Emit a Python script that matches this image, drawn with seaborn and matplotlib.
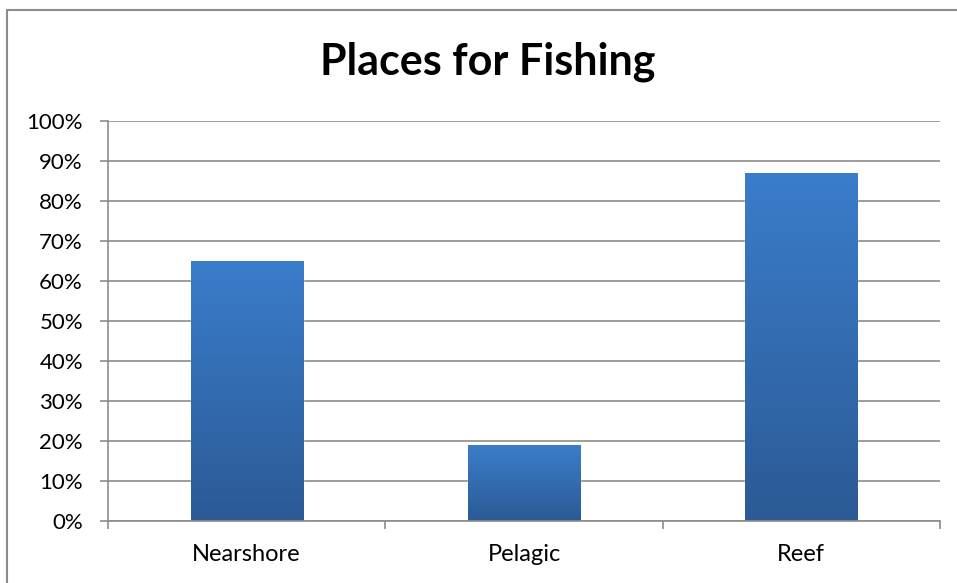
import numpy as np
import pandas as pd
import matplotlib.pyplot as plt
import matplotlib.patches as mpatches
from matplotlib.colors import LinearSegmentedColormap
from matplotlib.ticker import PercentFormatter, FixedLocator
import seaborn as sns

# data
places = ["Nearshore", "Pelagic", "Reef"]
shares = [0.65, 0.19, 0.87]

df = pd.DataFrame({"place": places, "share": shares})

sns.set_style("white")
plt.rcParams["font.family"] = ["Lato", "DejaVu Sans"]

fig = plt.figure(figsize=(9.57, 5.83), dpi=100)
ax = fig.add_axes([108 / 957, 1 - 521 / 583, (940 - 108) / 957, 400 / 583])

sns.barplot(data=df, x="place", y="share", ax=ax, width=0.404,
            color="#3a7cc9", saturation=1)

# vertical gradient on each bar
grad = LinearSegmentedColormap.from_list("bar", ["#2c5a95", "#3a7dcb"])
for bar in ax.patches:
    x0, y0 = bar.get_x(), bar.get_y()
    w, h = bar.get_width(), bar.get_height()
    img = ax.imshow(np.linspace(0, 1, 256).reshape(-1, 1), cmap=grad,
                    extent=[x0, x0 + w, y0, y0 + h], origin="lower",
                    aspect="auto", zorder=bar.get_zorder() + 0.1)
    img.set_clip_path(bar)

ax.set_xlim(-0.5, 2.5)
ax.set_ylim(0, 1)
ax.yaxis.set_major_locator(FixedLocator(np.arange(0, 1.01, 0.1)))
ax.yaxis.set_major_formatter(PercentFormatter(1.0, decimals=0))
ax.grid(axis="y", color="#8c8c8c", linewidth=1.2)
ax.set_axisbelow(True)
ax.set_xlabel("")
ax.set_ylabel("")

for side in ["top", "right"]:
    ax.spines[side].set_visible(False)
for side in ["left", "bottom"]:
    ax.spines[side].set_color("#8c8c8c")
    ax.spines[side].set_linewidth(1.2)

ax.tick_params(axis="y", which="major", left=True, length=6, width=1.2,
               color="#8c8c8c", labelsize=16, labelcolor="black", pad=12)
ax.set_xticks([0, 1, 2])
ax.set_xticklabels(places)
ax.tick_params(axis="x", which="major", bottom=False, labelsize=17,
               labelcolor="black", pad=13)
ax.set_xticks([-0.5, 0.5, 1.5, 2.5], minor=True)
ax.tick_params(axis="x", which="minor", bottom=True, length=6, width=1.2,
               color="#8c8c8c")

fig.text(488 / 957, 1 - 62 / 583, "Places for Fishing", ha="center",
         va="center", fontsize=31, fontweight="bold", color="black")

# outer chart border
fig.patches.append(mpatches.Rectangle((7 / 957, -0.1), 1.1, 1 - 10 / 583 + 0.1,
                                      transform=fig.transFigure, fill=False,
                                      edgecolor="#8c8c8c", linewidth=1.5))

fig.savefig("out.png", dpi=100)
